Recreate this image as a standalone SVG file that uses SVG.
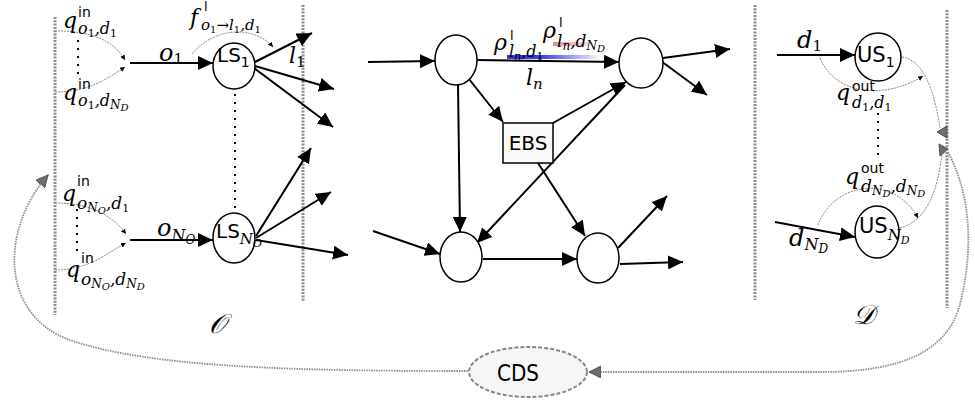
<svg xmlns="http://www.w3.org/2000/svg" width="975" height="402" viewBox="0 0 975 402">
  <style>
    .m { font-family: "DejaVu Serif", serif; font-style: italic; fill: #000; }
    .u { font-family: "DejaVu Serif", serif; font-style: normal; }
    .s { font-family: "DejaVu Sans", sans-serif; font-style: normal; fill: #000; }
    .node { fill: #fff; stroke: #000; stroke-width: 1.5; }
    .arrow { fill: none; stroke: #000; stroke-width: 2; marker-end: url(#ah); }
    .thin { fill: none; stroke: #8a8a8a; stroke-width: 1; stroke-dasharray: 2 1; marker-end: url(#ahs); }
    .thinp { fill: none; stroke: #8a8a8a; stroke-width: 1; stroke-dasharray: 2 1; }
    .border { fill: none; stroke: #8c8c8c; stroke-width: 3; stroke-dasharray: 2 1.3; }
    .dots { fill: none; stroke: #000; stroke-width: 2; stroke-dasharray: 2 6; }
    .fb { fill: none; stroke: #8c8c8c; stroke-width: 1.8; stroke-dasharray: 1.5 1; marker-end: url(#ahg); }
    .gh { fill: #6e6e6e; stroke: #555; stroke-width: 1; }
  </style>
  <defs>
    <marker id="ah" markerUnits="userSpaceOnUse" markerWidth="16" markerHeight="14" refX="15" refY="7" orient="auto">
      <path d="M0,0 L15,7 L0,14 z" fill="#000"/>
    </marker>
    <marker id="ahs" markerUnits="userSpaceOnUse" markerWidth="6" markerHeight="6" refX="5" refY="2.5" orient="auto">
      <path d="M0,0 L5,2.5 L0,5 z" fill="#000"/>
    </marker>
    <marker id="ahg" markerUnits="userSpaceOnUse" markerWidth="14" markerHeight="14" refX="12" refY="6" orient="auto">
      <path d="M0,0 L12,6 L0,12 z" fill="#6e6e6e" stroke="#555" stroke-width="1"/>
    </marker>
    <linearGradient id="blueBar" x1="0" x2="1" y1="0" y2="0">
      <stop offset="0" stop-color="#3434e0"/>
      <stop offset="0.35" stop-color="#3a3ae6"/>
      <stop offset="1" stop-color="#3a3ae6" stop-opacity="0"/>
    </linearGradient>
    <linearGradient id="redBar" x1="0" x2="1" y1="0" y2="0">
      <stop offset="0" stop-color="#e07070" stop-opacity="0.8"/>
      <stop offset="1" stop-color="#e8a0a0" stop-opacity="0.4"/>
    </linearGradient>
  </defs>

  <!-- region borders and set names -->
  <g id="borders">
    <line class="border" x1="55" y1="17" x2="55" y2="315"/>
    <line class="border" x1="303" y1="5" x2="303" y2="302"/>
    <line class="border" x1="755" y1="5" x2="755" y2="300"/>
    <line class="border" x1="947" y1="10" x2="947" y2="308"/>
    <text class="m" x="209" y="333" font-size="27">𝒪</text>
    <text class="m" x="853" y="324" font-size="27">𝒟</text>
  </g>

  <!-- vertical ellipsis dots -->
  <g id="ellipsis">
    <line class="dots" x1="78" y1="40" x2="78" y2="78"/>
    <line class="dots" x1="235" y1="94" x2="235" y2="212"/>
    <line class="dots" x1="77" y1="209" x2="77" y2="252"/>
    <line class="dots" x1="878" y1="113" x2="878" y2="158"/>
  </g>

  <g id="connectors">
    <!-- origin side -->
    <line class="arrow" x1="130" y1="63" x2="213" y2="63"/>
    <line class="arrow" x1="255" y1="62" x2="312" y2="33"/>
    <line class="arrow" x1="255" y1="66" x2="334" y2="89"/>
    <line class="arrow" x1="254" y1="68" x2="333" y2="127"/>
    <line class="arrow" x1="130" y1="240" x2="213" y2="240"/>
    <line class="arrow" x1="256" y1="236" x2="311" y2="148"/>
    <line class="arrow" x1="256" y1="238" x2="331" y2="192"/>
    <line class="arrow" x1="256" y1="240" x2="348" y2="255"/>
    <path class="thin" d="M55,31 C92,31 113,40 125,60"/>
    <path class="thin" d="M55,92 C90,92 108,78 125,67"/>
    <path class="thin" d="M55,203 C90,203 112,215 126,234"/>
    <path class="thin" d="M55,270 C90,270 108,252 126,243"/>
    <path class="thin" d="M192,54 C215,26 255,26 273,47"/>

    <!-- network -->
    <line class="arrow" x1="368" y1="62" x2="435" y2="61"/>
    <line class="arrow" x1="477" y1="60" x2="619" y2="62"/>
    <line class="arrow" x1="663" y1="58" x2="730" y2="49"/>
    <line class="arrow" x1="661" y1="61" x2="707" y2="95"/>
    <line class="arrow" x1="469" y1="79" x2="503" y2="122"/>
    <line class="arrow" x1="553" y1="123" x2="626" y2="82"/>
    <line class="arrow" x1="625" y1="85" x2="477" y2="243"/>
    <line class="arrow" x1="458" y1="85" x2="460" y2="232"/>
    <line class="arrow" x1="373" y1="231" x2="440" y2="254"/>
    <line class="arrow" x1="483" y1="259" x2="577" y2="259"/>
    <line class="arrow" x1="538" y1="163" x2="585" y2="236"/>
    <line class="arrow" x1="618" y1="248" x2="667" y2="196"/>
    <line class="arrow" x1="620" y1="264" x2="683" y2="262"/>

    <!-- destination side -->
    <line class="arrow" x1="777" y1="55" x2="855" y2="55"/>
    <line class="arrow" x1="775" y1="222" x2="855" y2="237"/>
    <path class="thin" d="M820,58 C835,95 885,100 923,76"/>
    <path class="thin" d="M818,225 C835,180 895,175 918,218"/>
    <path class="thinp" d="M902,57 C925,60 935,95 940,128"/>
    <path class="thinp" d="M900,228 C930,220 938,185 942,154"/>
    <polygon class="gh" points="937,132 947,126 947,138"/>
    <polygon class="gh" points="939,144 948,149 940,156"/>

    <!-- feedback through CDS -->
    <path class="fb" d="M948,152 C968,190 975,240 961,300 C950,350 905,372 820,372 L589,372"/>
    <path class="fb" d="M468,371 C300,371 150,368 70,340 C0,315 0,230 48,175"/>
  </g>

  <!-- gradient bars on link l_n -->
  <rect x="507" y="55" width="95" height="4" fill="url(#blueBar)"/>
  <rect x="553" y="42" width="36" height="4" fill="url(#redBar)"/>

  <g id="LS1">
    <ellipse class="node" cx="234" cy="66" rx="21" ry="23"/>
    <text class="s" x="217" y="62" font-size="20">LS<tspan font-size="14" dy="5">1</tspan></text>
  </g>
  <g id="LSNO">
    <ellipse class="node" cx="234" cy="238" rx="21" ry="25"/>
    <text class="s" x="216" y="238" font-size="20">LS<tspan class="m" font-size="15" dy="6">N</tspan><tspan class="m" font-size="11" dy="3">O</tspan></text>
  </g>
  <g id="n1"><ellipse class="node" cx="456" cy="60" rx="21" ry="25"/></g>
  <g id="n2"><ellipse class="node" cx="641" cy="63" rx="22" ry="25"/></g>
  <g id="n3"><ellipse class="node" cx="461" cy="257" rx="21" ry="25"/></g>
  <g id="n4"><ellipse class="node" cx="598" cy="258" rx="21" ry="25"/></g>
  <g id="EBS">
    <rect x="503" y="123" width="50" height="40" fill="#fafafa" stroke="#000" stroke-width="1.5"/>
    <text class="s" x="528" y="150" font-size="20" text-anchor="middle">EBS</text>
  </g>
  <g id="US1">
    <ellipse class="node" cx="878" cy="57" rx="23" ry="24"/>
    <text class="s" x="857" y="62" font-size="21">US<tspan font-size="14" dy="5">1</tspan></text>
  </g>
  <g id="USND">
    <ellipse class="node" cx="877" cy="232" rx="22" ry="26"/>
    <text class="s" x="859" y="233" font-size="21">US<tspan class="m" font-size="15" dy="7">N</tspan><tspan class="m" font-size="11" dy="4">D</tspan></text>
  </g>
  <g id="CDS">
    <ellipse cx="528" cy="372" rx="59" ry="25" fill="#f6f6f6" stroke="#888" stroke-width="2" stroke-dasharray="4 2"/>
    <text class="s" x="518" y="381" font-size="23" text-anchor="middle" textLength="42" lengthAdjust="spacingAndGlyphs">CDS</text>
  </g>

  <!-- math labels -->
  <g id="labels">
    <text class="m" x="63" y="28" font-size="22">q</text>
    <text class="s" x="78" y="17" font-size="14">in</text>
    <text class="m" x="78" y="34" font-size="16">o<tspan class="u" font-size="11" dy="3">1</tspan><tspan dy="-3">,d</tspan><tspan class="u" font-size="11" dy="3">1</tspan></text>

    <text class="m" x="63" y="100" font-size="22">q</text>
    <text class="s" x="78" y="89" font-size="14">in</text>
    <text class="m" x="78" y="106" font-size="16">o<tspan class="u" font-size="11" dy="3">1</tspan><tspan dy="-3">,d</tspan><tspan font-size="12" dy="3">N</tspan><tspan font-size="10" dy="2">D</tspan></text>

    <text class="m" x="190" y="25" font-size="22">f</text>
    <text class="s" x="204" y="11" font-size="13">l</text>
    <text class="m" x="201" y="30" font-size="15">o<tspan class="u" font-size="10" dy="3">1</tspan><tspan class="u" dy="-3">→</tspan><tspan>l</tspan><tspan class="u" font-size="10" dy="3">1</tspan><tspan dy="-3">,d</tspan><tspan class="u" font-size="10" dy="3">1</tspan></text>

    <text class="m" x="159" y="61" font-size="24">o<tspan class="u" font-size="15" dy="3">1</tspan></text>
    <text class="m" x="289" y="63" font-size="22">l<tspan class="u" font-size="15" dy="4">1</tspan></text>

    <text class="m" x="62" y="201" font-size="22">q</text>
    <text class="s" x="77" y="186" font-size="14">in</text>
    <text class="m" x="77" y="209" font-size="17">o<tspan font-size="12" dy="3">N</tspan><tspan font-size="10" dy="2">O</tspan><tspan dy="-5">,d</tspan><tspan class="u" font-size="11" dy="3">1</tspan></text>

    <text class="m" x="66" y="277" font-size="22">q</text>
    <text class="s" x="81" y="263" font-size="14">in</text>
    <text class="m" x="81" y="285" font-size="17">o<tspan font-size="12" dy="3">N</tspan><tspan font-size="10" dy="2">O</tspan><tspan dy="-5">,d</tspan><tspan font-size="12" dy="3">N</tspan><tspan font-size="10" dy="2">D</tspan></text>

    <text class="m" x="157" y="236" font-size="24">o<tspan font-size="16" dy="5">N</tspan><tspan font-size="12" dy="3">O</tspan></text>

    <text class="m" x="494" y="50" font-size="22">ρ</text>
    <text class="s" x="510" y="40" font-size="13">l</text>
    <text class="m" x="509" y="57" font-size="16">l<tspan font-size="11" dy="3">n</tspan><tspan dy="-3">,d</tspan><tspan class="u" font-size="11" dy="3">1</tspan></text>

    <text class="m" x="543" y="38" font-size="22">ρ</text>
    <text class="s" x="559" y="27" font-size="13">l</text>
    <text class="m" x="557" y="47" font-size="17">l<tspan font-size="12" dy="3">n</tspan><tspan dy="-3">,d</tspan><tspan font-size="12" dy="3">N</tspan><tspan font-size="10" dy="2">D</tspan></text>

    <text class="m" x="526" y="85" font-size="22">l<tspan font-size="15" dy="4">n</tspan></text>

    <text class="m" x="797" y="48" font-size="24">d<tspan class="u" font-size="15" dy="3">1</tspan></text>

    <text class="m" x="836" y="100" font-size="22">q</text>
    <text class="s" x="852" y="91" font-size="14">out</text>
    <text class="m" x="852" y="108" font-size="16">d<tspan class="u" font-size="11" dy="3">1</tspan><tspan dy="-3">,d</tspan><tspan class="u" font-size="11" dy="3">1</tspan></text>

    <text class="m" x="845" y="184" font-size="22">q</text>
    <text class="s" x="861" y="173" font-size="14">out</text>
    <text class="m" x="861" y="192" font-size="17">d<tspan font-size="12" dy="3">N</tspan><tspan font-size="10" dy="2">D</tspan><tspan dy="-5">,d</tspan><tspan font-size="12" dy="3">N</tspan><tspan font-size="10" dy="2">D</tspan></text>

    <text class="m" x="789" y="246" font-size="24">d<tspan font-size="16" dy="4">N</tspan><tspan font-size="12" dy="3">D</tspan></text>
  </g>
</svg>
